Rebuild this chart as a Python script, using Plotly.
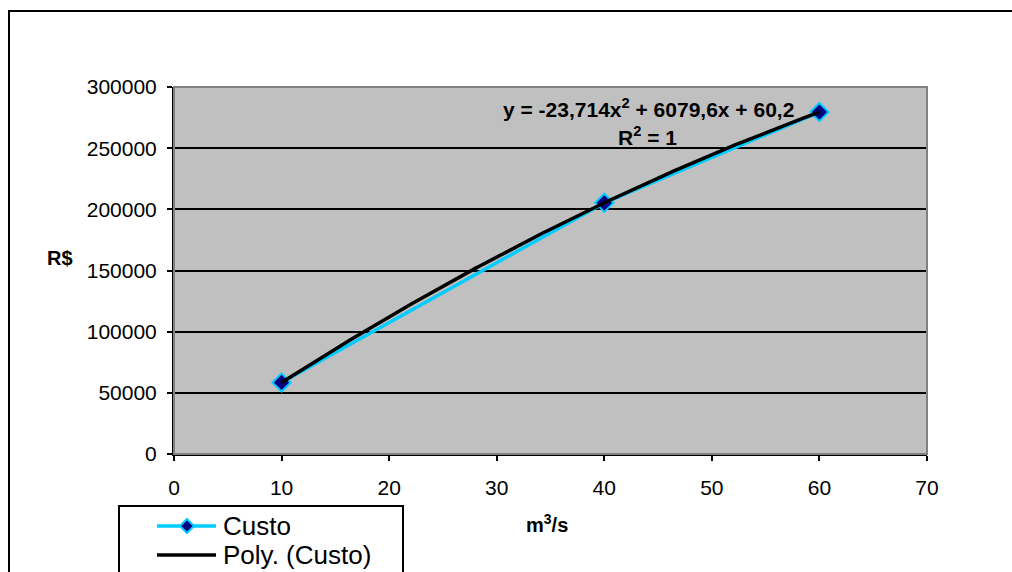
import numpy as np
import plotly.graph_objects as go

# ---- data ----
flow = [10, 40, 60]                      # m3/s
cost = [58500, 205300, 279500]           # R$
trend_coef = [-23.714, 6079.6, 60.2]
x_ticks = [0, 10, 20, 30, 40, 50, 60, 70]
y_ticks = [0, 50000, 100000, 150000, 200000, 250000, 300000]

FONT = "Liberation Sans, Arial, sans-serif"

# plot area in pixels (for decoration placement)
L, R, T, B = 174, 927, 87, 454
W, H = R - L, B - T
def px(x):
    return (x - L) / W
def py(y):
    return (B - y) / H

xt = np.linspace(min(flow), max(flow), 200)
yt = np.polyval(trend_coef, xt)

fig = go.Figure()
fig.add_trace(go.Scatter(
    x=flow, y=cost, mode="lines+markers", name="Custo",
    line=dict(color="#00CCFF", width=3.5),
    marker=dict(symbol="diamond", size=14, color="#000080",
                line=dict(color="#00CCFF", width=2)),
    showlegend=False))
fig.add_trace(go.Scatter(
    x=xt, y=yt, mode="lines", name="Poly. (Custo)",
    line=dict(color="black", width=3.5), showlegend=False))

shapes = []
# plot-area border (gray)
shapes.append(dict(type="rect", xref="paper", yref="paper", x0=0, y0=0, x1=1, y1=1,
                   line=dict(color="#808080", width=2), layer="above"))
# outer chart border
shapes.append(dict(type="rect", xref="paper", yref="paper",
                   x0=px(9), y0=py(11), x1=px(1040), y1=py(620),
                   line=dict(color="black", width=2)))
# legend box
shapes.append(dict(type="rect", xref="paper", yref="paper",
                   x0=px(119), y0=py(506), x1=px(403), y1=py(620),
                   line=dict(color="black", width=2)))
# legend symbols
shapes.append(dict(type="line", xref="paper", yref="paper",
                   x0=px(157), y0=py(526), x1=px(216), y1=py(526),
                   line=dict(color="#00CCFF", width=3.5)))
cx, cy, r = 187, 526, 7
diamond = "M {},{} L {},{} L {},{} L {},{} Z".format(
    px(cx - r), py(cy), px(cx), py(cy - r), px(cx + r), py(cy), px(cx), py(cy + r))
shapes.append(dict(type="path", xref="paper", yref="paper", path=diamond,
                   fillcolor="#000080", line=dict(color="#00CCFF", width=2)))
shapes.append(dict(type="line", xref="paper", yref="paper",
                   x0=px(157), y0=py(555), x1=px(216), y1=py(555),
                   line=dict(color="black", width=3.5)))

annotations = [
    dict(text="Custo", x=px(221), y=py(526), xanchor="left", yanchor="middle",
         font=dict(size=26, color="black", family=FONT)),
    dict(text="Poly. (Custo)", x=px(221), y=py(555), xanchor="left", yanchor="middle",
         font=dict(size=26, color="black", family=FONT)),
    dict(text="<b>R$</b>", x=px(60), y=py(258), xanchor="center", yanchor="middle",
         font=dict(size=20, color="black", family=FONT)),
    dict(text="<b>m<sup>3</sup>/s</b>", x=px(547), y=py(523), xanchor="center", yanchor="middle",
         font=dict(size=20, color="black", family=FONT)),
    dict(text="<b>y = -23,714x<sup>2</sup> + 6079,6x + 60,2</b>", x=px(648), y=py(108),
         xanchor="center", yanchor="middle",
         font=dict(size=21, color="black", family=FONT)),
    dict(text="<b>R<sup>2</sup> = 1</b>", x=px(647), y=py(136),
         xanchor="center", yanchor="middle",
         font=dict(size=21, color="black", family=FONT)),
]
for a in annotations:
    a.update(xref="paper", yref="paper", showarrow=False)

fig.update_layout(
    width=1012, height=572,
    margin=dict(l=L, r=1012 - R, t=T, b=572 - B, pad=0),
    paper_bgcolor="white", plot_bgcolor="#C0C0C0",
    font=dict(family=FONT, size=21, color="black"),
    shapes=shapes, annotations=annotations, showlegend=False,
)
fig.update_xaxes(
    range=[0, 70], tickvals=x_ticks, ticktext=[str(v) for v in x_ticks],
    showgrid=False, zeroline=False, showline=True, linecolor="black", linewidth=2,
    ticks="outside", ticklen=5, tickwidth=2, tickcolor="black",
    tickfont=dict(size=21, family=FONT, color="black"), ticklabelstandoff=9)
fig.update_yaxes(
    range=[0, 300000], tickvals=y_ticks, ticktext=[str(v) for v in y_ticks],
    showgrid=True, gridcolor="black", gridwidth=2, zeroline=False,
    showline=True, linecolor="black", linewidth=2,
    ticks="outside", ticklen=5, tickwidth=2, tickcolor="black",
    tickfont=dict(size=21, family=FONT, color="black"), ticklabelstandoff=6)

fig.write_html("out.html")
